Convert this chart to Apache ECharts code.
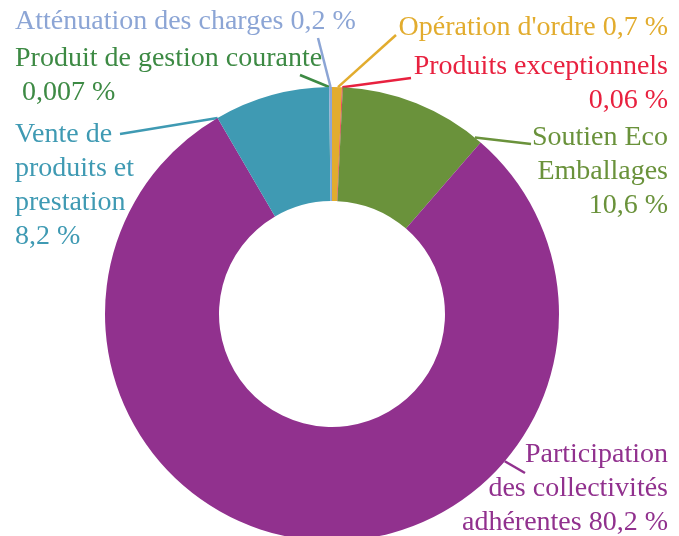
<!DOCTYPE html>
<html>
<head>
<meta charset="utf-8">
<script src="https://cdn.jsdelivr.net/npm/echarts@6/dist/echarts.min.js"></script>
<style>
  html, body { margin: 0; padding: 0; background: #ffffff; }
  #chart { width: 679px; height: 536px; }
</style>
</head>
<body>
<div id="chart"></div>
<script>
// Répartition des recettes (en %)
const categories = [
  "Opération d'ordre",
  "Produits exceptionnels",
  "Soutien Eco Emballages",
  "Participation des collectivités adhérentes",
  "Vente de produits et prestation",
  "Produit de gestion courante",
  "Atténuation des charges"
];
const values = [0.7, 0.06, 10.6, 80.2, 8.2, 0.007, 0.2];
const valueTexts = ["0,7 %", "0,06 %", "10,6 %", "80,2 %", "8,2 %", "0,007 %", "0,2 %"];
// Label text split over lines; "{v}" is replaced by the percentage
const labelLines = [
  ["Opération d'ordre {v}"],
  ["Produits exceptionnels", "{v}"],
  ["Soutien Eco", "Emballages", "{v}"],
  ["Participation", "des collectivités", "adhérentes {v}"],
  ["Vente de", "produits et", "prestation", "{v}"],
  ["Produit de gestion courante", " {v}"],
  ["Atténuation des charges {v}"]
];
const colors = ["#E2AC2E", "#E8213F", "#6A923B", "#91318E", "#3F9AB3", "#3D8A44", "#8CA5D5"];

// Ring geometry
const CENTER = [332, 314];
const RADII = [113, 227];
const START_ANGLE = 90;

// Where each label block sits around the ring
const labelSpots = [
  { x: 668, y: 28, align: "right" },
  { x: 668, y: 84, align: "right" },
  { x: 668, y: 172, align: "right" },
  { x: 668, y: 489, align: "right" },
  { x: 15, y: 186, align: "left" },
  { x: 15, y: 76, align: "left" },
  { x: 15, y: 22, align: "left" }
];
// Leader lines: where along its slice the line leaves the outer edge (0..1),
// and the point next to the label where it stops
const leaders = [
  { t: 0.6, end: [396, 35] },
  { t: 0.5, end: [411, 78] },
  { t: 0.95, end: [531, 144] },
  { t: 0.31, end: [525, 473] },
  { t: 0.0, end: [120, 134] },
  { t: 0.5, end: [300, 75] },
  { t: 0.5, end: [318, 38] }
];

// Point on the outer rim for a given position within a slice
const total = values.reduce((a, b) => a + b, 0);
function rimPoint(i, t) {
  let before = 0;
  for (let k = 0; k < i; k++) before += values[k];
  const frac = (before + values[i] * t) / total;
  const ang = (START_ANGLE - frac * 360) * Math.PI / 180;
  return [CENTER[0] + RADII[1] * Math.cos(ang), CENTER[1] - RADII[1] * Math.sin(ang)];
}

const chart = echarts.init(document.getElementById("chart"), null, { renderer: "canvas" });

const data = categories.map((name, i) => ({
  name: name,
  value: values[i],
  itemStyle: { color: colors[i] },
  label: {
    color: colors[i],
    align: labelSpots[i].align
  },
  labelLine: { lineStyle: { color: colors[i] } }
}));

chart.setOption({
  backgroundColor: "#ffffff",
  animation: false,
  series: [{
    type: "pie",
    center: CENTER,
    radius: RADII,
    startAngle: START_ANGLE,
    clockwise: true,
    avoidLabelOverlap: false,
    itemStyle: { borderWidth: 0 },
    label: {
      show: true,
      position: "outside",
      fontFamily: "Liberation Serif",
      fontSize: 28,
      lineHeight: 34,
      formatter: p => labelLines[p.dataIndex]
        .map(l => l.replace("{v}", valueTexts[p.dataIndex]))
        .join("\n")
    },
    labelLine: {
      show: true,
      length: 10,
      length2: 10,
      smooth: false,
      lineStyle: { width: 2.5 }
    },
    labelLayout: p => {
      const i = p.dataIndex;
      const start = rimPoint(i, leaders[i].t);
      return {
        x: labelSpots[i].x,
        y: labelSpots[i].y,
        align: labelSpots[i].align,
        verticalAlign: "middle",
        labelLinePoints: [start, leaders[i].end]
      };
    },
    data: data
  }]
});
</script>
</body>
</html>
